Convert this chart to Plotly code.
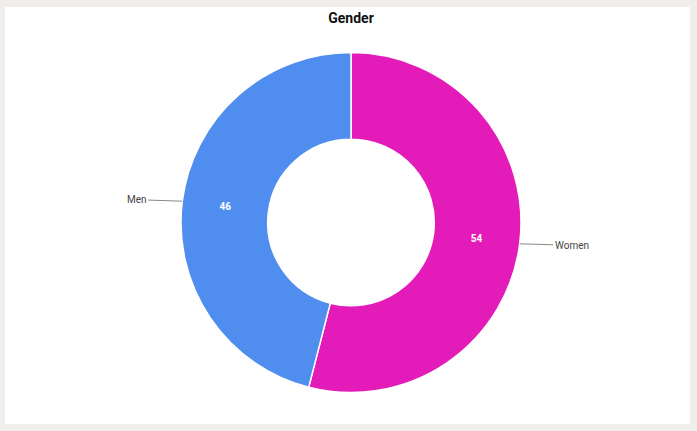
import math
import plotly.graph_objects as go

labels = ["Women", "Men"]
values = [54, 46]
colors = ["rgb(227,27,184)", "rgb(79,141,238)"]

W, H = 697, 431
cx, cy, r = 351, 222.5, 170   # donut centre / radius in px (from top-left)

fig = go.Figure(go.Pie(
    labels=labels,
    values=values,
    sort=False,
    direction="clockwise",
    rotation=0,
    hole=0.49,
    marker=dict(colors=colors, line=dict(color="white", width=1.5)),
    textinfo="value",
    textposition="inside",
    insidetextorientation="horizontal",
    textfont=dict(family="Roboto", size=10, color="white", weight="bold"),
    domain=dict(x=[(cx - r) / W, (cx + r) / W], y=[(H - cy - r) / H, (H - cy + r) / H]),
    showlegend=False,
    hoverinfo="label+value",
))

# leader-line labels outside the ring, placed at the mid angle of each slice
total = sum(values)
cum = 0
annotations = []
for lab, v in zip(labels, values):
    mid = (cum + v / 2) / total * 2 * math.pi
    cum += v
    px_ = cx + r * math.sin(mid)
    py_ = cy - r * math.cos(mid)
    side = 1 if math.sin(mid) > 0 else -1
    annotations.append(dict(
        x=px_ / W, y=1 - py_ / H, xref="paper", yref="paper",
        text=lab, showarrow=True, arrowhead=0, arrowwidth=1, arrowcolor="#888",
        ax=side * (36 + 3.2 * len(lab)), ay=side * 1.5,
        font=dict(family="Roboto", size=10, color="#444"),
    ))

fig.update_layout(
    width=W, height=H,
    margin=dict(l=0, r=0, t=0, b=0),
    paper_bgcolor="#f0eded",
    title=dict(text="<b>Gender</b>", x=351 / W, xanchor="center", y=1 - 18 / H, yanchor="middle",
               font=dict(family="Roboto", size=14, color="#111")),
    shapes=[dict(type="rect", xref="paper", yref="paper", x0=5 / W, x1=690 / W,
                 y0=(H - 424) / H, y1=(H - 7) / H, fillcolor="white", line=dict(width=0), layer="below")],
    annotations=annotations,
)

fig.write_html("out.html", config={"displayModeBar": False},
               post_script="document.body.style.margin='0px';")
